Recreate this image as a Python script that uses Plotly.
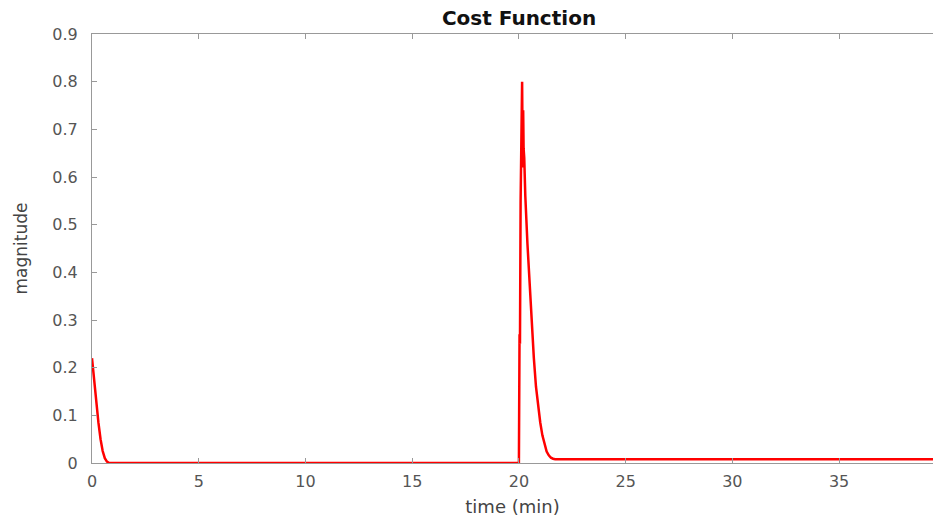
import plotly.graph_objects as go

# time (min) and cost-function magnitude
time_min = [0.0, 0.1, 0.2, 0.3, 0.4, 0.5, 0.6, 0.7, 0.8,
            19.99, 20.0, 20.03, 20.05, 20.08, 20.12, 20.15, 20.18, 20.2, 20.22, 20.25,
            20.3, 20.4, 20.5, 20.6, 20.7, 20.8, 20.9, 21.0, 21.1, 21.2, 21.3, 21.4, 21.5, 21.6, 21.7,
            39.4]
magnitude = [0.22, 0.17, 0.125, 0.085, 0.05, 0.025, 0.01, 0.003, 0.0,
             0.0, 0.0, 0.27, 0.25, 0.55, 0.72, 0.80, 0.62, 0.74, 0.66, 0.64,
             0.56, 0.46, 0.37, 0.29, 0.22, 0.16, 0.12, 0.085, 0.058, 0.038, 0.024, 0.016, 0.011, 0.009, 0.008,
             0.008]

x_ticks = [0, 5, 10, 15, 20, 25, 30, 35]
y_ticks = [0, 0.1, 0.2, 0.3, 0.4, 0.5, 0.6, 0.7, 0.8, 0.9]
y_tick_labels = ["0", "0.1", "0.2", "0.3", "0.4", "0.5", "0.6", "0.7", "0.8", "0.9"]

FONT = "DejaVu Sans, Liberation Sans, Arial, sans-serif"

fig = go.Figure()
fig.add_trace(go.Scatter(x=time_min, y=magnitude, mode="lines",
                         line=dict(color="#ff0000", width=2.5), showlegend=False))

tick_font = dict(family=FONT, size=16, color="#555555")

fig.update_layout(
    width=933, height=520,
    margin=dict(l=92, r=0, t=34, b=57),
    paper_bgcolor="white", plot_bgcolor="white",
    title=dict(text="<b>Cost Function</b>", x=519 / 933, xanchor="center",
               y=1 - 18 / 520, yanchor="middle",
               font=dict(family=FONT, size=20, color="#111111")),
    xaxis=dict(range=[0, 39.4], tickvals=x_ticks, showgrid=False, zeroline=False,
               showline=True, linecolor="#999999", linewidth=1, mirror="ticks",
               ticks="inside", ticklen=5, tickcolor="#999999",
               tickfont=tick_font, ticklabelstandoff=4,
               title=dict(text="time (min)", standoff=10,
                          font=dict(family=FONT, size=18, color="#444444"))),
    yaxis=dict(range=[0, 0.9], tickvals=y_ticks, ticktext=y_tick_labels, showgrid=False, zeroline=False,
               showline=True, linecolor="#999999", linewidth=1, mirror=False,
               ticks="inside", ticklen=5, tickcolor="#999999",
               tickfont=tick_font, ticklabelstandoff=10,
               title=dict(text="magnitude", standoff=20,
                          font=dict(family=FONT, size=17, color="#444444"))),
)

fig.write_html("out.html")
